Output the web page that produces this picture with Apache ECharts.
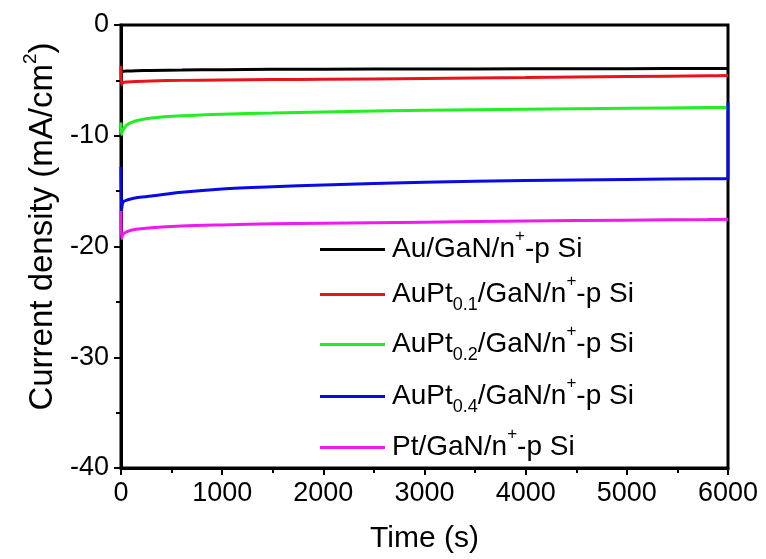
<!DOCTYPE html>
<html>
<head>
<meta charset="utf-8">
<script src="https://cdn.jsdelivr.net/npm/echarts@6/dist/echarts.min.js"></script>
<style>
html,body{margin:0;padding:0;background:#fff;}
#chart{width:766px;height:559px;}
</style>
</head>
<body>
<div id="chart"></div>
<script>
// ---- data ----
const timeS   = [0, 5, 20, 60, 150, 300, 600, 1000, 1500, 2000, 3000, 4000, 5000, 5800, 6000];
const auVals  = [-4.20, -4.25, -4.18, -4.15, -4.12, -4.10, -4.07, -4.03, -4.00, -3.99, -3.97, -3.96, -3.95, -3.93, -3.93];
const pt01Vals= [-3.70, -5.40, -5.20, -5.15, -5.10, -5.05, -5.00, -4.97, -4.93, -4.90, -4.83, -4.75, -4.66, -4.58, -4.56];
const pt02Vals= [-8.80, -9.90, -9.50, -9.00, -8.65, -8.40, -8.20, -8.05, -7.95, -7.85, -7.70, -7.60, -7.52, -7.46, -7.45];
const pt04Time= [0, 5, 20, 60, 150, 300, 600, 1000, 1500, 2000, 3000, 4000, 5000, 5800, 6000, 6000];
const pt04Vals= [-12.8, -16.8, -16.0, -15.8, -15.6, -15.45, -15.1, -14.8, -14.6, -14.45, -14.2, -14.05, -13.95, -13.88, -13.87, -7.0];
const ptVals  = [-16.8, -19.3, -18.9, -18.65, -18.45, -18.3, -18.15, -18.05, -17.95, -17.9, -17.8, -17.7, -17.62, -17.57, -17.55];

const seriesNames = ['Au/GaN/n+-p Si', 'AuPt0.1/GaN/n+-p Si', 'AuPt0.2/GaN/n+-p Si', 'AuPt0.4/GaN/n+-p Si', 'Pt/GaN/n+-p Si'];
const legendRich  = ['Au/GaN/n{sup|+}-p Si', 'AuPt{sub|0.1}/GaN/n{sup|+}-p Si', 'AuPt{sub|0.2}/GaN/n{sup|+}-p Si', 'AuPt{sub|0.4}/GaN/n{sup|+}-p Si', 'Pt/GaN/n{sup|+}-p Si'];
const colors      = ['#000000', '#e8141a', '#22ee22', '#0a0ae6', '#ee1aee'];
const xTicks = {min: 0, max: 6000, interval: 1000};
const yTicks = {min: -40, max: 0, interval: 10};

const zip = (t, v) => t.map((x, i) => [x, v[i]]);
const seriesData = [zip(timeS, auVals), zip(timeS, pt01Vals), zip(timeS, pt02Vals), zip(pt04Time, pt04Vals), zip(timeS, ptVals)];

const FONT = '"Liberation Sans", Arial, sans-serif';
const legendTops = [223, 268, 318, 370, 421];

const chart = echarts.init(document.getElementById('chart'), null, {renderer: 'canvas'});
chart.setOption({
  backgroundColor: '#ffffff',
  animation: false,
  grid: {left: 121, right: 38, top: 25, bottom: 87, show: true, borderColor: '#000', borderWidth: 3, backgroundColor: 'transparent'},
  xAxis: {
    type: 'value', min: xTicks.min, max: xTicks.max, interval: xTicks.interval,
    name: 'Time (s)', nameLocation: 'middle', nameGap: 56,
    nameTextStyle: {fontFamily: FONT, fontSize: 30, color: '#000'},
    axisLine: {show: true, onZero: false, lineStyle: {color: '#000', width: 3}},
    axisTick: {show: true, inside: false, length: 7, lineStyle: {color: '#000', width: 2}},
    minorTick: {show: true, splitNumber: 2, length: 5, lineStyle: {color: '#000', width: 2}},
    axisLabel: {fontFamily: FONT, fontSize: 27, color: '#000', margin: 12, formatter: v => String(v)},
    splitLine: {show: false}
  },
  yAxis: {
    type: 'value', min: yTicks.min, max: yTicks.max, interval: yTicks.interval,
    name: 'Current density (mA/cm{sup|2})', nameLocation: 'middle', nameGap: 52, nameRotate: 90,
    nameTextStyle: {fontFamily: FONT, fontSize: 33, color: '#000', padding: [0, 0, 0, 40],
      rich: {sup: {fontFamily: FONT, fontSize: 19, color: '#000', padding: [0, 0, 24, 0]}}},
    axisLine: {show: true, onZero: false, lineStyle: {color: '#000', width: 3}},
    axisTick: {show: true, inside: false, length: 7, lineStyle: {color: '#000', width: 2}},
    minorTick: {show: true, splitNumber: 2, length: 5, lineStyle: {color: '#000', width: 2}},
    axisLabel: {fontFamily: FONT, fontSize: 27, color: '#000', margin: 12, formatter: v => String(v)},
    splitLine: {show: false}
  },
  legend: seriesNames.map((n, i) => ({
    data: [n], left: 315, top: legendTops[i], orient: 'vertical',
    icon: 'rect', itemWidth: 65, itemHeight: 3, itemGap: 0,
    formatter: () => legendRich[i],
    textStyle: {fontFamily: FONT, fontSize: 28, color: '#000', padding: [0, 0, 0, 2],
      rich: {
        sub: {fontFamily: FONT, fontSize: 18, color: '#000', padding: [22, 0, 0, 0]},
        sup: {fontFamily: FONT, fontSize: 17, color: '#000', padding: [0, 0, 26, 0]}
      }}
  })),
  series: seriesNames.map((n, i) => ({
    name: n, type: 'line', data: seriesData[i], showSymbol: false, symbol: 'none',
    smooth: 0.3, lineStyle: {color: colors[i], width: 3}, itemStyle: {color: colors[i]}
  }))
});
</script>
</body>
</html>
